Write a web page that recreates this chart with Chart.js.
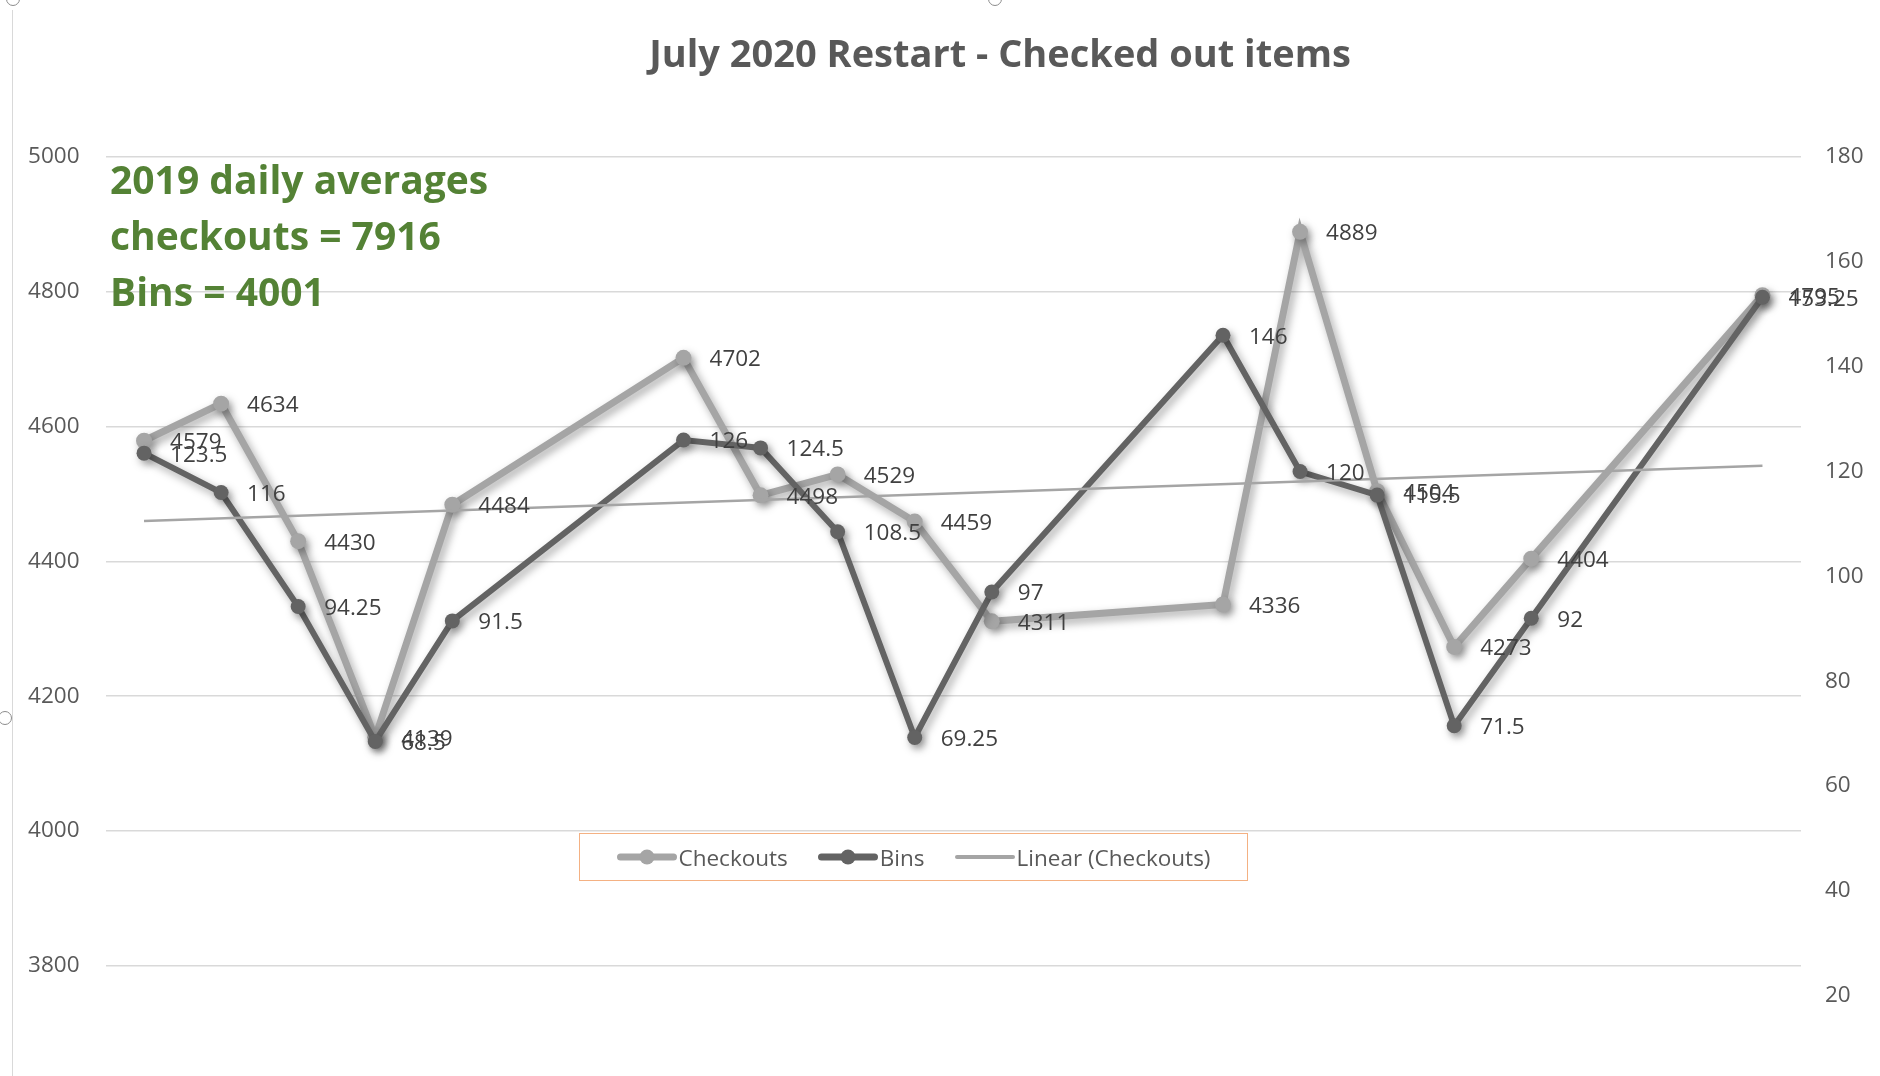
<!DOCTYPE html>
<html>
<head>
<meta charset="utf-8">
<script src="https://cdn.jsdelivr.net/npm/chart.js@4/dist/chart.umd.min.js"></script>
<style>
  html, body { margin: 0; padding: 0; background: #fff; overflow: hidden; }
  #wrap { position: relative; width: 1880px; height: 1076px; overflow: hidden; }
  #frame { position: absolute; left: 12px; top: 10px; height: 1076px; border-left: 1.5px solid #d9d9d9; }
  .handle { position: absolute; width: 12px; height: 12px; border-radius: 50%; border: 1.5px solid #8c8c8c; background: #fff; }
  #title { position: absolute; left: 0; width: 2000px; top: 30px; text-align: center;
           font: bold 38px "Open Sans", sans-serif; line-height: 44px; color: #595959; }
  #note { position: absolute; left: 110px; top: 151px;
          font: bold 39px "Open Sans", sans-serif; line-height: 56px; color: #548235; }
  #legend { position: absolute; left: 579px; top: 833px; width: 667px; height: 46px;
            border: 1.5px solid #F4B183; display: flex; align-items: center; justify-content: center; gap: 30px;
            font: 22.5px "Open Sans", sans-serif; color: #595959; }
  .item { display: flex; align-items: center; gap: 2px; }
  .swatch { position: relative; width: 60px; height: 16px; }
  .swatch .ln { position: absolute; left: 0; right: 0; top: 50%; border-radius: 4px; transform: translateY(-50%); }
  .swatch .mk { position: absolute; left: 50%; top: 50%; border-radius: 50%; transform: translate(-50%, -50%); }
  canvas { position: absolute; left: 0; top: 0; }
</style>
</head>
<body>
<div id="wrap">
  <canvas id="myChart" width="1880" height="1140"></canvas>
  <div id="frame"></div>
  <div class="handle" style="left:6px; top:-8px;"></div>
  <div class="handle" style="left:988px; top:-8px;"></div>
  <div class="handle" style="left:-2px; top:711px;"></div>
  <div id="title">July 2020 Restart - Checked out items</div>
  <div id="note">2019 daily averages<br>checkouts = 7916<br>Bins = 4001</div>
  <div id="legend"></div>
</div>
<script>
// dias (weekdays only, weekends skipped) from the first day
var dias      = [0, 1, 2, 3, 4, 7, 8, 9, 10, 11, 14, 15, 16, 17, 18, 21];
var checkouts = [4579, 4634, 4430, 4139, 4484, 4702, 4498, 4529, 4459, 4311, 4336, 4889, 4504, 4273, 4404, 4795];
var bins      = [123.5, 116, 94.25, 68.5, 91.5, 126, 124.5, 108.5, 69.25, 97, 146, 120, 115.5, 71.5, 92, 153.25];
var ticksEsq  = [3600, 5000, 200];
var ticksDir  = [0, 180, 20];

var corCheckouts = '#A5A5A5';
var corBins      = '#636363';

// Linear (Checkouts) - least squares, same as the Excel trendline
var n = dias.length, mx = 0, my = 0;
dias.forEach(function(d, i) { mx += d; my += checkouts[i]; });
mx /= n; my /= n;
var sxy = 0, sxx = 0;
dias.forEach(function(d, i) { sxy += (d - mx) * (checkouts[i] - my); sxx += (d - mx) * (d - mx); });
var slope = sxy / sxx;
var inter = my - slope * mx;
var primeiro = dias[0], ultimo = dias[n - 1];

function pontos(valores) {
    return dias.map(function(d, i) { return { x: d, y: valores[i] }; });
}

// labels on the right of each point
var rotulos = {
    id: 'rotulos',
    afterDatasetsDraw: function(chart) {
        var ctx = chart.ctx;
        ctx.save();
        ctx.font = '22.5px "Open Sans"';
        ctx.fillStyle = '#404040';
        ctx.textBaseline = 'middle';
        chart.data.datasets.forEach(function(ds, i) {
            if (!ds.rotulos) return;
            chart.getDatasetMeta(i).data.forEach(function(pt, j) {
                ctx.fillText(String(ds.data[j].y), pt.x + 26, pt.y + 2);
            });
        });
        ctx.restore();
    }
};

// soft shadow like the Excel line effect
var sombra = {
    id: 'sombra',
    beforeDatasetDraw: function(chart, args) {
        if (!chart.data.datasets[args.index].sombra) return;
        var ctx = chart.ctx;
        ctx.save();
        ctx.shadowColor = 'rgba(0,0,0,0.35)';
        ctx.shadowBlur = 9;
        ctx.shadowOffsetX = 3;
        ctx.shadowOffsetY = 4;
    },
    afterDatasetDraw: function(chart, args) {
        if (!chart.data.datasets[args.index].sombra) return;
        chart.ctx.restore();
    }
};

var semVirgula = function(v) { return String(v); };

var ctx = document.getElementById('myChart').getContext('2d');
var myChart = new Chart(ctx, {
    type: 'line',
    data: {
        datasets: [{
            label: 'Checkouts',
            data: pontos(checkouts),
            yAxisID: 'y',
            borderColor: corCheckouts,
            backgroundColor: corCheckouts,
            borderWidth: 7,
            pointRadius: 8,
            pointBorderWidth: 0,
            tension: 0,
            order: 3,
            rotulos: true,
            sombra: true
        }, {
            label: 'Bins',
            data: pontos(bins),
            yAxisID: 'y2',
            borderColor: corBins,
            backgroundColor: corBins,
            borderWidth: 6,
            pointRadius: 7.5,
            pointBorderWidth: 0,
            tension: 0,
            order: 2,
            rotulos: true,
            sombra: true
        }, {
            label: 'Linear (Checkouts)',
            data: [{ x: primeiro, y: inter + slope * primeiro }, { x: ultimo, y: inter + slope * ultimo }],
            yAxisID: 'y',
            borderColor: corCheckouts,
            borderWidth: 2.5,
            pointRadius: 0,
            order: 1
        }]
    },
    options: {
        responsive: false,
        animation: false,
        devicePixelRatio: 1,
        layout: { padding: { top: 157, bottom: 37, left: 0, right: 0 } },
        plugins: {
            legend: { display: false },
            title: { display: false },
            tooltip: { enabled: false }
        },
        scales: {
            x: { type: 'linear', min: -0.5, max: 21.5, display: false },
            y: {
                position: 'left',
                min: ticksEsq[0], max: ticksEsq[1],
                ticks: { stepSize: ticksEsq[2], padding: 26, color: '#595959', font: { size: 22.5, family: 'Open Sans' }, callback: semVirgula },
                grid: { color: '#D9D9D9', lineWidth: 1.5, drawTicks: false },
                border: { display: false },
                afterFit: function(s) { s.width = 105.5; }
            },
            y2: {
                position: 'right',
                min: ticksDir[0], max: ticksDir[1],
                ticks: { stepSize: ticksDir[2], padding: 24, color: '#595959', font: { size: 22.5, family: 'Open Sans' }, callback: semVirgula },
                grid: { display: false, drawTicks: false },
                border: { display: false },
                afterFit: function(s) { s.width = 79; }
            }
        }
    },
    plugins: [sombra, rotulos]
});

// Legenda
var legenda = document.getElementById('legend');
myChart.data.datasets.forEach(function(ds) {
    var temMarcador = ds.pointRadius > 0;
    var item = document.createElement('div');
    item.className = 'item';
    var sw = '<div class="swatch"><div class="ln" style="height:' + (temMarcador ? 7 : 4) + 'px;background:' + ds.borderColor + '"></div>';
    if (temMarcador) {
        sw += '<div class="mk" style="width:15px;height:15px;background:' + ds.backgroundColor + '"></div>';
    }
    sw += '</div>';
    item.innerHTML = sw + '<span>' + ds.label + '</span>';
    legenda.appendChild(item);
});
</script>
</body>
</html>
